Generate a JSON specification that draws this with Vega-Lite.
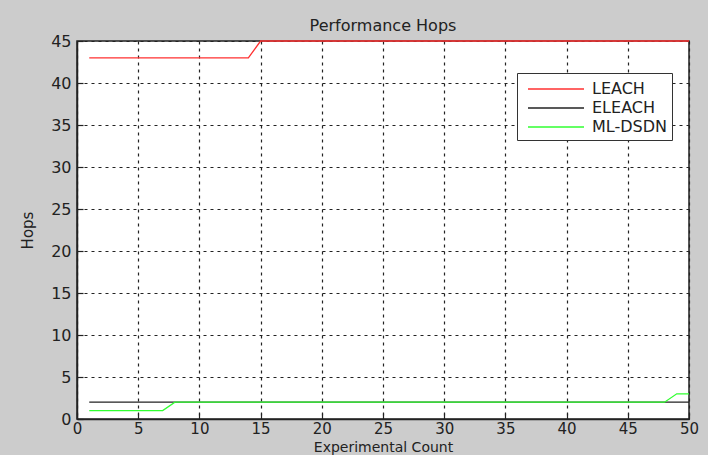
{
  "$schema": "https://vega.github.io/schema/vega-lite/v6.json",
  "autosize": {"type": "none"},
  "width": 612,
  "height": 378,
  "padding": {"left": 77, "top": 41, "right": 19, "bottom": 36},
  "background": "#cccccc",
  "title": {"text": "Performance Hops", "font": "DejaVu Sans", "fontSize": 16, "fontWeight": "normal", "color": "#222222", "offset": -1, "anchor": "middle"},
  "config": {
    "view": {"fill": "white", "stroke": "#222222", "strokeWidth": 1.5},
    "axis": {
      "labelFont": "DejaVu Sans", "labelFontSize": 16, "labelColor": "#222222", "labelFlush": false,
      "titleFont": "DejaVu Sans", "titleFontSize": 16, "titleFontWeight": "normal", "titleColor": "#222222",
      "domainColor": "#222222", "domainWidth": 1.5,
      "tickColor": "#222222", "tickSize": -6, "tickWidth": 1.2,
      "grid": true, "gridColor": "#222222", "gridDash": [3, 4], "gridWidth": 1.2, "gridOpacity": 1
    }
  },
  "data": {"values": [
    {"x":1,"LEACH":43,"ELEACH":2,"ML-DSDN":1},
    {"x":2,"LEACH":43,"ELEACH":2,"ML-DSDN":1},
    {"x":3,"LEACH":43,"ELEACH":2,"ML-DSDN":1},
    {"x":4,"LEACH":43,"ELEACH":2,"ML-DSDN":1},
    {"x":5,"LEACH":43,"ELEACH":2,"ML-DSDN":1},
    {"x":6,"LEACH":43,"ELEACH":2,"ML-DSDN":1},
    {"x":7,"LEACH":43,"ELEACH":2,"ML-DSDN":1},
    {"x":8,"LEACH":43,"ELEACH":2,"ML-DSDN":2},
    {"x":9,"LEACH":43,"ELEACH":2,"ML-DSDN":2},
    {"x":10,"LEACH":43,"ELEACH":2,"ML-DSDN":2},
    {"x":11,"LEACH":43,"ELEACH":2,"ML-DSDN":2},
    {"x":12,"LEACH":43,"ELEACH":2,"ML-DSDN":2},
    {"x":13,"LEACH":43,"ELEACH":2,"ML-DSDN":2},
    {"x":14,"LEACH":43,"ELEACH":2,"ML-DSDN":2},
    {"x":15,"LEACH":45,"ELEACH":2,"ML-DSDN":2},
    {"x":16,"LEACH":45,"ELEACH":2,"ML-DSDN":2},
    {"x":17,"LEACH":45,"ELEACH":2,"ML-DSDN":2},
    {"x":18,"LEACH":45,"ELEACH":2,"ML-DSDN":2},
    {"x":19,"LEACH":45,"ELEACH":2,"ML-DSDN":2},
    {"x":20,"LEACH":45,"ELEACH":2,"ML-DSDN":2},
    {"x":21,"LEACH":45,"ELEACH":2,"ML-DSDN":2},
    {"x":22,"LEACH":45,"ELEACH":2,"ML-DSDN":2},
    {"x":23,"LEACH":45,"ELEACH":2,"ML-DSDN":2},
    {"x":24,"LEACH":45,"ELEACH":2,"ML-DSDN":2},
    {"x":25,"LEACH":45,"ELEACH":2,"ML-DSDN":2},
    {"x":26,"LEACH":45,"ELEACH":2,"ML-DSDN":2},
    {"x":27,"LEACH":45,"ELEACH":2,"ML-DSDN":2},
    {"x":28,"LEACH":45,"ELEACH":2,"ML-DSDN":2},
    {"x":29,"LEACH":45,"ELEACH":2,"ML-DSDN":2},
    {"x":30,"LEACH":45,"ELEACH":2,"ML-DSDN":2},
    {"x":31,"LEACH":45,"ELEACH":2,"ML-DSDN":2},
    {"x":32,"LEACH":45,"ELEACH":2,"ML-DSDN":2},
    {"x":33,"LEACH":45,"ELEACH":2,"ML-DSDN":2},
    {"x":34,"LEACH":45,"ELEACH":2,"ML-DSDN":2},
    {"x":35,"LEACH":45,"ELEACH":2,"ML-DSDN":2},
    {"x":36,"LEACH":45,"ELEACH":2,"ML-DSDN":2},
    {"x":37,"LEACH":45,"ELEACH":2,"ML-DSDN":2},
    {"x":38,"LEACH":45,"ELEACH":2,"ML-DSDN":2},
    {"x":39,"LEACH":45,"ELEACH":2,"ML-DSDN":2},
    {"x":40,"LEACH":45,"ELEACH":2,"ML-DSDN":2},
    {"x":41,"LEACH":45,"ELEACH":2,"ML-DSDN":2},
    {"x":42,"LEACH":45,"ELEACH":2,"ML-DSDN":2},
    {"x":43,"LEACH":45,"ELEACH":2,"ML-DSDN":2},
    {"x":44,"LEACH":45,"ELEACH":2,"ML-DSDN":2},
    {"x":45,"LEACH":45,"ELEACH":2,"ML-DSDN":2},
    {"x":46,"LEACH":45,"ELEACH":2,"ML-DSDN":2},
    {"x":47,"LEACH":45,"ELEACH":2,"ML-DSDN":2},
    {"x":48,"LEACH":45,"ELEACH":2,"ML-DSDN":2},
    {"x":49,"LEACH":45,"ELEACH":2,"ML-DSDN":3},
    {"x":50,"LEACH":45,"ELEACH":2,"ML-DSDN":3}
  ]},
  "transform": [{"fold": ["LEACH", "ELEACH", "ML-DSDN"], "as": ["series", "hops"]}],
  "mark": {"type": "line", "strokeWidth": 1.3, "clip": false},
  "encoding": {
    "x": {"field": "x", "type": "quantitative", "scale": {"domain": [0, 50], "nice": false},
      "axis": {"title": "Experimental Count", "titleFontSize": 14, "labelFontSize": 15, "values": [0,5,10,15,20,25,30,35,40,45,50], "labelPadding": 8, "titlePadding": 4}},
    "y": {"field": "hops", "type": "quantitative", "scale": {"domain": [0, 45], "nice": false},
      "axis": {"title": "Hops", "titleFontSize": 15, "values": [0,5,10,15,20,25,30,35,40,45], "labelPadding": 12, "titlePadding": 15}},
    "color": {"field": "series", "type": "nominal",
      "scale": {"domain": ["LEACH", "ELEACH", "ML-DSDN"], "range": ["#ff3030", "#222222", "#30ff30"]},
      "legend": {"title": null, "orient": "none", "legendX": 440, "legendY": 32,
        "fillColor": "white", "strokeColor": "#333333", "padding": 5,
        "symbolType": "M-0.5,0H5.1", "symbolSize": 400, "symbolStrokeWidth": 1.5, "symbolFillColor": "transparent",
        "labelFont": "DejaVu Sans", "labelFontSize": 16, "labelColor": "#222222",
        "rowPadding": 0, "labelOffset": 48}}
  }
}
